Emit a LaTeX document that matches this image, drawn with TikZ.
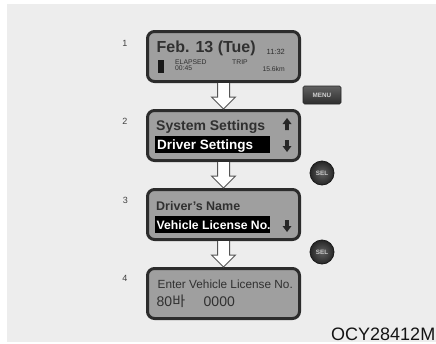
\documentclass[tikz,border=0pt]{standalone}
\usepackage{fontspec}
\setmainfont{Liberation Sans}
\newfontfamily\krfont{Noto Sans CJK KR}
\usetikzlibrary{calc}
\definecolor{bg}{HTML}{EDEDED}
\definecolor{scrborder}{HTML}{2C2C2C}
\definecolor{scrfill}{HTML}{9F9F9F}
\definecolor{scrtext}{HTML}{303030}
\definecolor{arrline}{HTML}{555555}
\newcommand\fsz[1]{\fontsize{#1}{#1}\selectfont}
\newcommand\flowarrow[2]{%
  \filldraw[flowarr] let \p1=(#1.south), \p2=(#2.north) in
    (\x1+6pt,\y1) -- (\x1+6pt,\y2+12pt) -- (\x1+12pt,\y2+12pt) -- (\x2,\y2)
    -- (\x1-12pt,\y2+12pt) -- (\x1-6pt,\y2+12pt) -- (\x1-6pt,\y1);}
\tikzset{
  screen/.style={draw=scrborder, line width=3pt, fill=scrfill, rounded corners=7pt,
    minimum width=152pt, minimum height=50pt, inner sep=0pt},
  txt/.style={anchor=base west, inner sep=0pt, text=scrtext},
  hltxt/.style={anchor=base west, inner sep=0pt, text=white},
  hlbox/.style={fill=black, minimum width=115pt, minimum height=17pt, inner sep=0pt},
  flowarr/.style={fill=white, draw=arrline, line width=1pt, line join=miter},
  num/.style={inner sep=0pt, text=black!75, font=\fsz{9}},
  menubtn/.style={draw=black!85, line width=0.6pt, top color=black!62, bottom color=black!82,
    rounded corners=1.5pt, minimum width=38pt, minimum height=18pt, inner sep=0pt,
    text=black!18, font=\bfseries\fsz{6.3}},
  selbtn/.style={circle, draw=black!90, line width=0.8pt, inner color=black!62, outer color=black!85,
    minimum size=24pt, inner sep=0pt, text=black!22, font=\bfseries\fsz{6.3}},
  uparr/.pic={\fill[black!85] (-4.5,0)--(0,-6)--(4.5,0)--(1.8,0)--(1.8,6)--(-1.8,6)--(-1.8,0)--cycle;},
  downarr/.pic={\fill[black!85] (-1.8,-6)--(1.8,-6)--(1.8,0)--(4.5,0)--(0,6)--(-4.5,0)--(-1.8,0)--cycle;}
}
\begin{document}
\begin{tikzpicture}[x=1pt,y=-1pt]
\clip (0,0) rectangle (436,343);
\fill[white] (0,0) rectangle (436,343);
\fill[bg] (7,4) rectangle (436,342);

% screens
\node[screen] (s1) at (223.5,56.5) {};
\node[screen] (s2) at (223.5,135.5) {};
\node[screen] (s3) at (223.5,214.5) {};
\node[screen] (s4) at (223.5,293.5) {};

% flow arrows
\flowarrow{s1}{s2}
\flowarrow{s2}{s3}
\flowarrow{s3}{s4}

% step numbers
\node[num] (n1) at (125,43) {1};
\node[num] (n2) at (125,121) {2};
\node[num] (n3) at (125.5,200) {3};
\node[num] (n4) at (125,278) {4};

% screen 1
\node[txt, font=\bfseries\fsz{16}] (t1a) at (156.5,52.3) {Feb. 13 (Tue)};
\node[txt, font=\fsz{7.5}] (t1b) at (266.5,54) {11:32};
\fill[black!90] (158,60) rectangle (164,73);
\node[txt, font=\fsz{6.8}] (t1c) at (175,64.5) {ELAPSED};
\node[txt, font=\fsz{6.8}] (t1d) at (175,70.5) {00:45};
\node[txt, font=\fsz{6.8}] (t1e) at (232,64.5) {TRIP};
\node[txt, font=\fsz{6.8}, anchor=base east] (t1f) at (285,71.5) {15.6km};

% screen 2
\node[txt, font=\bfseries\fsz{14}] (t2a) at (156,130) {System Settings};
\node[hlbox] (h2) at (212.5,144.5) {};
\node[hltxt, font=\bfseries\fsz{13.5}] (t2b) at (157,149) {Driver Settings};
\pic at (287,124) {uparr};
\pic at (287,146) {downarr};

% screen 3
\node[txt, font=\bfseries\fsz{12.5}] (t3a) at (156,210) {Driver's Name};
\node[hlbox] (h3) at (212.5,224) {};
\node[hltxt, font=\bfseries\fsz{12.2}] (t3b) at (156.5,229) {Vehicle License No.};
\pic at (287,226) {downarr};

% screen 4
\node[txt, font=\fsz{11.8}] (t4a) at (157.5,288.5) {Enter Vehicle License No.};
\node[txt, font=\fsz{14}] (t4b) at (156.5,306.5) {80{\krfont 바}};
\node[txt, font=\fsz{14}] (t4c) at (203.5,306.5) {0000};

% buttons
\node[menubtn] (menu) at (322,95) {MENU};
\node[selbtn] (sel1) at (322,173) {SEL};
\node[selbtn] (sel2) at (322,252) {SEL};

% caption
\node[anchor=base west, inner sep=0pt, text=black!92, font=\fsz{18}] (cap) at (331,340.5) {OCY28412M};
\end{tikzpicture}
\end{document}
